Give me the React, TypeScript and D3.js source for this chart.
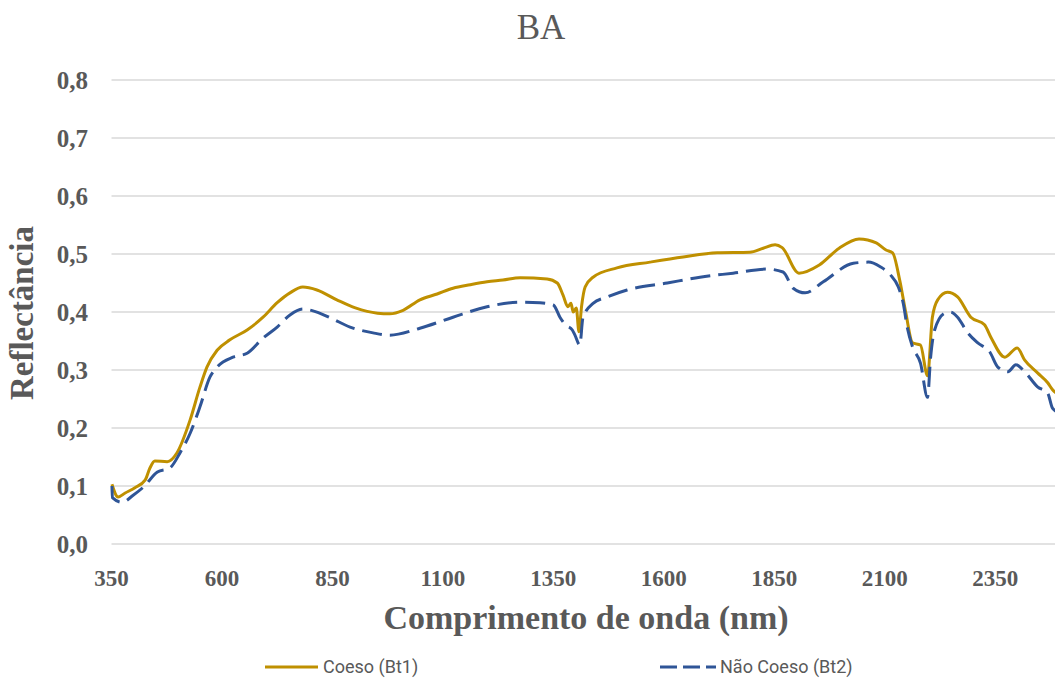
import React from "react";
import * as d3 from "d3";

const title = "BA";
const xTicks = [350, 600, 850, 1100, 1350, 1600, 1850, 2100, 2350];
const yTicks = [0, 0.1, 0.2, 0.3, 0.4, 0.5, 0.6, 0.7, 0.8];

const coesoNm = [351, 365, 381, 403, 426, 437, 448, 476, 498, 528, 550, 566, 589, 618, 657, 693, 725, 754, 783, 815, 860, 902, 952, 980, 1010, 1048, 1087, 1123, 1162, 1200, 1236, 1275, 1336, 1359, 1372, 1383, 1390, 1395, 1402, 1408, 1414, 1422, 1440, 1494, 1569, 1644, 1721, 1795, 1825, 1852, 1868, 1906, 1952, 1997, 2042, 2081, 2103, 2118, 2134, 2148, 2163, 2181, 2197, 2208, 2220, 2242, 2265, 2295, 2326, 2340, 2372, 2400, 2417, 2446, 2469, 2480, 2500];
const coesoVal = [0.103, 0.081, 0.088, 0.097, 0.11, 0.131, 0.143, 0.142, 0.157, 0.214, 0.27, 0.305, 0.334, 0.352, 0.369, 0.391, 0.416, 0.433, 0.443, 0.438, 0.421, 0.407, 0.398, 0.397, 0.403, 0.421, 0.431, 0.441, 0.447, 0.452, 0.455, 0.459, 0.457, 0.45, 0.429, 0.409, 0.415, 0.4, 0.407, 0.366, 0.41, 0.443, 0.46, 0.476, 0.486, 0.495, 0.502, 0.503, 0.51, 0.516, 0.511, 0.467, 0.481, 0.51, 0.526, 0.519, 0.507, 0.502, 0.455, 0.398, 0.347, 0.343, 0.29, 0.391, 0.421, 0.434, 0.426, 0.391, 0.378, 0.357, 0.322, 0.338, 0.317, 0.295, 0.278, 0.266, 0.255];

const naoNm = [351, 352, 374, 399, 422, 454, 482, 505, 528, 550, 573, 589, 625, 657, 693, 725, 754, 783, 806, 845, 890, 942, 980, 1048, 1123, 1200, 1275, 1320, 1350, 1365, 1377, 1393, 1399, 1410, 1417, 1440, 1472, 1517, 1608, 1682, 1757, 1833, 1870, 1893, 1920, 1961, 2029, 2063, 2090, 2113, 2131, 2142, 2151, 2163, 2181, 2197, 2204, 2213, 2236, 2249, 2265, 2288, 2310, 2338, 2356, 2379, 2397, 2417, 2446, 2469, 2480, 2500];
const naoVal = [0.1, 0.08, 0.072, 0.084, 0.098, 0.124, 0.131, 0.157, 0.191, 0.236, 0.288, 0.305, 0.322, 0.329, 0.355, 0.374, 0.395, 0.405, 0.402, 0.39, 0.374, 0.364, 0.36, 0.372, 0.391, 0.409, 0.417, 0.416, 0.412, 0.391, 0.378, 0.369, 0.36, 0.343, 0.39, 0.415, 0.426, 0.438, 0.45, 0.46, 0.467, 0.474, 0.469, 0.441, 0.433, 0.452, 0.484, 0.486, 0.478, 0.464, 0.443, 0.415, 0.374, 0.34, 0.312, 0.253, 0.322, 0.369, 0.398, 0.4, 0.391, 0.364, 0.347, 0.331, 0.305, 0.297, 0.309, 0.297, 0.271, 0.26, 0.234, 0.225];

const seriesNames = ["Coeso (Bt1)", "Não Coeso (Bt2)"];
const xTitle = "Comprimento de onda (nm)";
const yTitle = "Reflectância";

const W = 1055;
const H = 687;
const GOLD = "#BF9000";
const BLUE = "#2F5597";
const TXT = "#595959";
const DASH = "20,8";

export default function App() {
  const x = d3.scaleLinear().domain([350, 2500]).range([111.5, 1061.4]);
  const y = d3.scaleLinear().domain([0, 0.8]).range([544, 80]);
  const line = d3
    .line<[number, number]>()
    .x((d) => x(d[0]))
    .y((d) => y(d[1]))
    .curve(d3.curveMonotoneX);
  const coeso = coesoNm.map((n, i) => [n, coesoVal[i]] as [number, number]);
  const nao = naoNm.map((n, i) => [n, naoVal[i]] as [number, number]);
  const fmt = (v: number) => v.toFixed(1).replace(".", ",");

  return (
    <svg
      width={W}
      height={H}
      style={{ position: "absolute", left: 0, top: 0, background: "#fff" }}
    >
      <defs>
        <clipPath id="plot">
          <rect x={100} y={60} width={W - 100} height={500} />
        </clipPath>
      </defs>
      <text
        x={541}
        y={39}
        textAnchor="middle"
        fontFamily="'Liberation Serif', serif"
        fontSize={35}
        fill={TXT}
      >
        {title}
      </text>
      {yTicks.map((t) => (
        <g key={t}>
          <line x1={111.5} x2={W} y1={y(t)} y2={y(t)} stroke="#D9D9D9" strokeWidth={1.5} />
          <text
            x={88}
            y={y(t)}
            dy="0.35em"
            textAnchor="end"
            fontFamily="'Liberation Serif', serif"
            fontWeight="bold"
            fontSize={25}
            fill={TXT}
          >
            {fmt(t)}
          </text>
        </g>
      ))}
      {xTicks.map((t) => (
        <text
          key={t}
          x={x(t)}
          y={586}
          textAnchor="middle"
          fontFamily="'Liberation Serif', serif"
          fontWeight="bold"
          fontSize={23}
          fill={TXT}
        >
          {t}
        </text>
      ))}
      <text
        x={586}
        y={629}
        textAnchor="middle"
        fontFamily="'Liberation Serif', serif"
        fontWeight="bold"
        fontSize={34}
        fill={TXT}
      >
        {xTitle}
      </text>
      <text
        transform={`translate(33,313) rotate(-90)`}
        textAnchor="middle"
        fontFamily="'Liberation Serif', serif"
        fontWeight="bold"
        fontSize={33}
        fill={TXT}
      >
        {yTitle}
      </text>
      <g clipPath="url(#plot)">
        <path d={line(coeso) || ""} fill="none" stroke={GOLD} strokeWidth={3} strokeLinejoin="round" />
        <path
          d={line(nao) || ""}
          fill="none"
          stroke={BLUE}
          strokeWidth={3}
          strokeDasharray={DASH}
          strokeLinejoin="round"
        />
      </g>
      <g fontFamily="Roboto, 'Open Sans', sans-serif" fontSize={18} fill={TXT}>
        <line x1={265} x2={318} y1={667} y2={667} stroke={GOLD} strokeWidth={3} />
        <text x={323} y={667} dy="0.35em">
          {seriesNames[0]}
        </text>
        <line x1={660} x2={716} y1={667} y2={667} stroke={BLUE} strokeWidth={3} strokeDasharray="17,6" />
        <text x={720} y={667} dy="0.35em">
          {seriesNames[1]}
        </text>
      </g>
    </svg>
  );
}
